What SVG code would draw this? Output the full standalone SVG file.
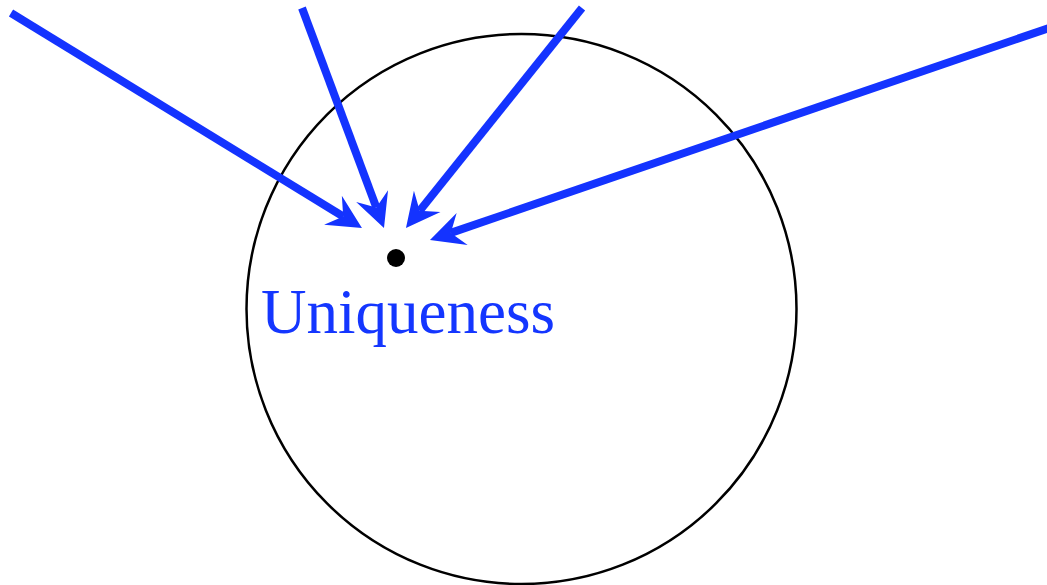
<svg xmlns="http://www.w3.org/2000/svg" width="1047" height="585" viewBox="0 0 1047 585">
<style>
.conn{stroke:#1433ff;stroke-width:8;fill:none;marker-end:url(#ah)}
.lbl{font-family:"Liberation Serif","Times New Roman",serif;font-size:63px;fill:#1436ff}
</style>
<defs>
<marker id="ah" markerUnits="userSpaceOnUse" markerWidth="40" markerHeight="40" viewBox="0 -20 40 40" refX="12" refY="0" orient="auto" overflow="visible">
<path d="M34,0 L0,-17 L12,0 L0,17 Z" fill="#1433ff"/>
</marker>
</defs>
<rect width="1047" height="585" fill="#fff"/>
<g id="region">
<circle cx="521.5" cy="309" r="275" fill="none" stroke="#000" stroke-width="2.5"/>
</g>
<g id="point">
<circle cx="396" cy="258" r="9" fill="#000"/>
<text class="lbl" x="261" y="333" textLength="294" lengthAdjust="spacingAndGlyphs">Uniqueness</text>
</g>
<g id="connectors">
<line class="conn" x1="11" y1="13" x2="343.2" y2="216.5"/>
<line class="conn" x1="302" y1="8" x2="376.3" y2="207.4"/>
<line class="conn" x1="582" y1="8" x2="419.7" y2="210.8"/>
<line class="conn" x1="1052" y1="27" x2="450.8" y2="232.9"/>
</g>
</svg>
